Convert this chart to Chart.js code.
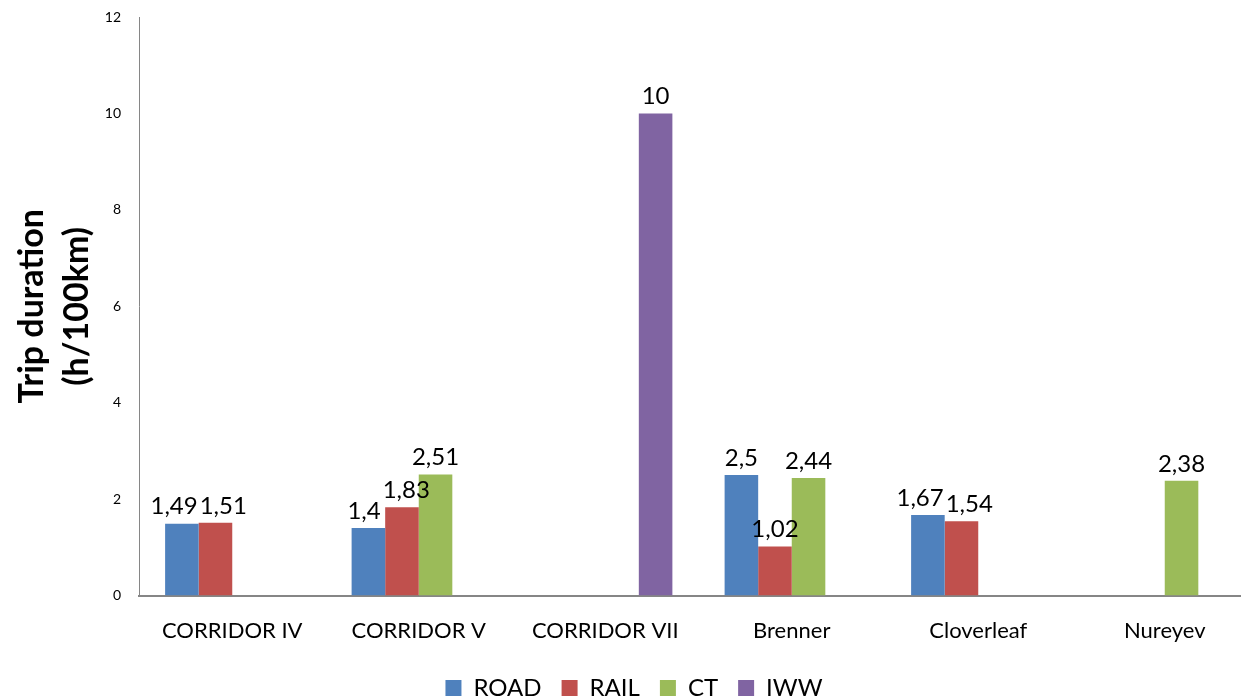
<!DOCTYPE html>
<html>
<head>
<meta charset="utf-8">
<script src="https://cdn.jsdelivr.net/npm/chart.js@4.4.1/dist/chart.umd.min.js"></script>
<style>
  html, body { margin: 0; padding: 0; background: #fff; overflow: hidden; }
  #wrap { width: 1241px; height: 698px; overflow: hidden; }
</style>
</head>
<body>
<div id="wrap"><canvas id="tripChart" width="1262" height="698"></canvas></div>
<script>
// Corridors and modes
const categories = ['CORRIDOR IV', 'CORRIDOR V', 'CORRIDOR VII', 'Brenner', 'Cloverleaf', 'Nureyev'];
const seriesNames = ['ROAD', 'RAIL', 'CT', 'IWW'];

// Trip duration in h/100km (null = no bar)
const road = [1.49, 1.4, null, 2.5, 1.67, null];
const rail = [1.51, 1.83, null, 1.02, 1.54, null];
const ct = [null, 2.51, null, 2.44, null, 2.38];
const iww = [null, null, 10, null, null, null];

const yTicks = [0, 2, 4, 6, 8, 10, 12];

const colors = ['#4F81BD', '#C0504D', '#9BBB59', '#8064A2'];
const FONT = 'Lato, "Open Sans", sans-serif';

// value labels above the bars, pushed apart a little when they collide
const barLabels = {
    id: 'barLabels',
    afterDatasetsDraw(chart) {
        const ctx = chart.ctx;
        ctx.save();
        ctx.font = '24px ' + FONT;
        ctx.fillStyle = '#000';
        ctx.textAlign = 'center';
        ctx.textBaseline = 'bottom';
        categories.forEach((c, i) => {
            const items = [];
            chart.data.datasets.forEach((ds, d) => {
                const v = ds.data[i];
                if (v === null) return;
                const bar = chart.getDatasetMeta(d).data[i];
                const text = String(v).replace('.', ',');
                items.push({ text, x: bar.x, y: bar.y - 5, w: ctx.measureText(text).width });
            });
            for (let k = 1; k < items.length; k++) {
                const a = items[k - 1], b = items[k];
                const overlap = (a.x + a.w / 2) - (b.x - b.w / 2);
                if (overlap > 0 && Math.abs(a.y - b.y) < 24) {
                    a.x -= overlap / 2 + 1;
                    b.x += overlap / 2 + 1;
                }
            }
            items.forEach(it => ctx.fillText(it.text, it.x, it.y));
        });
        ctx.restore();
    }
};

const ctx = document.getElementById('tripChart').getContext('2d');
const tripChart = new Chart(ctx, {
    type: 'bar',
    data: {
        labels: categories,
        datasets: [road, rail, ct, iww].map((vals, i) => ({
            label: seriesNames[i],
            data: vals,
            backgroundColor: colors[i],
            borderWidth: 0,
            barPercentage: 1,
            categoryPercentage: 0.72
        }))
    },
    options: {
        responsive: false,
        animation: false,
        layout: { padding: { left: 10, right: 4, top: 17, bottom: -12 } },
        plugins: {
            legend: {
                position: 'bottom',
                labels: {
                    boxWidth: 16,
                    boxHeight: 16,
                    padding: 20,
                    color: '#000',
                    font: { family: FONT, size: 24 }
                }
            },
            tooltip: { enabled: false }
        },
        scales: {
            x: {
                afterFit: scale => { scale.height -= 10; },
                grid: { display: false, drawTicks: false },
                border: { color: '#868686', width: 2 },
                ticks: { color: '#000', padding: 22, font: { family: FONT, size: 22 } }
            },
            y: {
                min: 0,
                max: 12,
                afterBuildTicks: scale => { scale.ticks = yTicks.map(v => ({ value: v })); },
                afterFit: scale => {
                    scale.width = 129;
                    scale.paddingTop = 0;
                    scale.paddingBottom = 0;
                },
                grid: { display: false, drawTicks: false },
                border: { color: '#868686', width: 1 },
                ticks: { color: '#000', padding: 18, font: { family: FONT, size: 14 } },
                title: {
                    display: true,
                    text: ['Trip duration', '(h/100km)'],
                    color: '#000',
                    padding: { top: 0, bottom: 0 },
                    font: { family: FONT, size: 34, weight: 'bold', lineHeight: 1.32 }
                }
            }
        }
    },
    plugins: [barLabels]
});
</script>
</body>
</html>
